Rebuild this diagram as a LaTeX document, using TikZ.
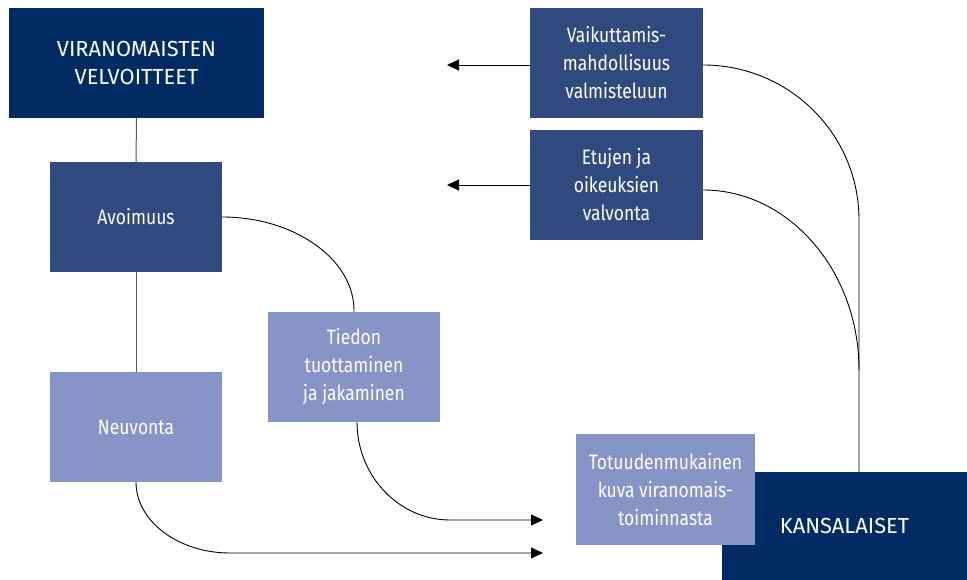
\documentclass[tikz,border=0pt]{standalone}
\usepackage{fontspec}
\setmainfont{Fira Sans}[FakeStretch=0.84]
\newfontfamily\capsfont{Fira Sans}[FakeStretch=1.0]
\usetikzlibrary{arrows.meta}
\definecolor{navy}{HTML}{012B62}
\definecolor{midblue}{HTML}{304A80}
\definecolor{lightblue}{HTML}{8794C8}
\tikzset{
  box/.style={rectangle, inner sep=0pt, align=center, text=white,
    font=\fontsize{20.8}{28}\selectfont},
  dark/.style={box, fill=navy, font=\capsfont\fontsize{21.8}{28}\selectfont},
  mid/.style={box, fill=midblue},
  light/.style={box, fill=lightblue},
  conn/.style={draw=black, line width=0.9pt},
  vconn/.style={draw=black!65, line width=1pt},
  tip/.style={-{Triangle[length=12pt,width=11pt]}}
}
\begin{document}
\begin{tikzpicture}[x=1pt,y=-1pt]
\useasboundingbox (0,0) rectangle (967,580);
\node[dark, minimum width=255, minimum height=110] (vir) at (136.5,63) {VIRANOMAISTEN\\VELVOITTEET};
\node[mid, minimum width=172, minimum height=110] (avo) at (136,217) {Avoimuus};
\node[light, minimum width=172, minimum height=110] (neu) at (136,427) {Neuvonta};
\node[light, minimum width=172, minimum height=110] (tie) at (354,367) {Tiedon\\tuottaminen\\ja jakaminen};
\node[mid, minimum width=173, minimum height=110] (vai) at (616.5,63) {Vaikuttamis-\\mahdollisuus\\valmisteluun};
\node[mid, minimum width=173, minimum height=110] (etu) at (616.5,185) {Etujen ja\\oikeuksien\\valvonta};
\node[dark, minimum width=245, minimum height=108] (kan) at (844.5,526) {KANSALAISET};
\node[light, minimum width=179, minimum height=111] (tot) at (665.5,489.5) {Totuudenmukainen\\kuva viranomais-\\toiminnasta};

\coordinate (a1) at (447,65);
\coordinate (a2) at (447,185);
\coordinate (a3) at (543,520);
\coordinate (a4) at (543,553);
\coordinate (k1) at (859,472);

\draw[vconn] (vir.south) -- (avo.north);
\draw[vconn] (avo.south) -- (neu.north);

\draw[conn] (avo.east) .. controls (295,217) and (355,260) .. (tie.north);
\draw[conn, tip] (357,422) .. controls (357,476) and (399,520) .. (450,520) -- (a3);
\draw[conn, tip] (neu.south) .. controls (136,521) and (178,553) .. (230,553) -- (a4);

\draw[conn, tip] (vai.west |- a1) -- (a1);
\draw[conn, tip] (etu.west) -- (a2);

\draw[conn] (k1) -- (859,220) .. controls (859,134) and (789,65) .. (vai.east |- a1);
\draw[conn] (859,370) .. controls (859,271) and (789,190) .. (etu.east |- 0,190);
\end{tikzpicture}
\end{document}
